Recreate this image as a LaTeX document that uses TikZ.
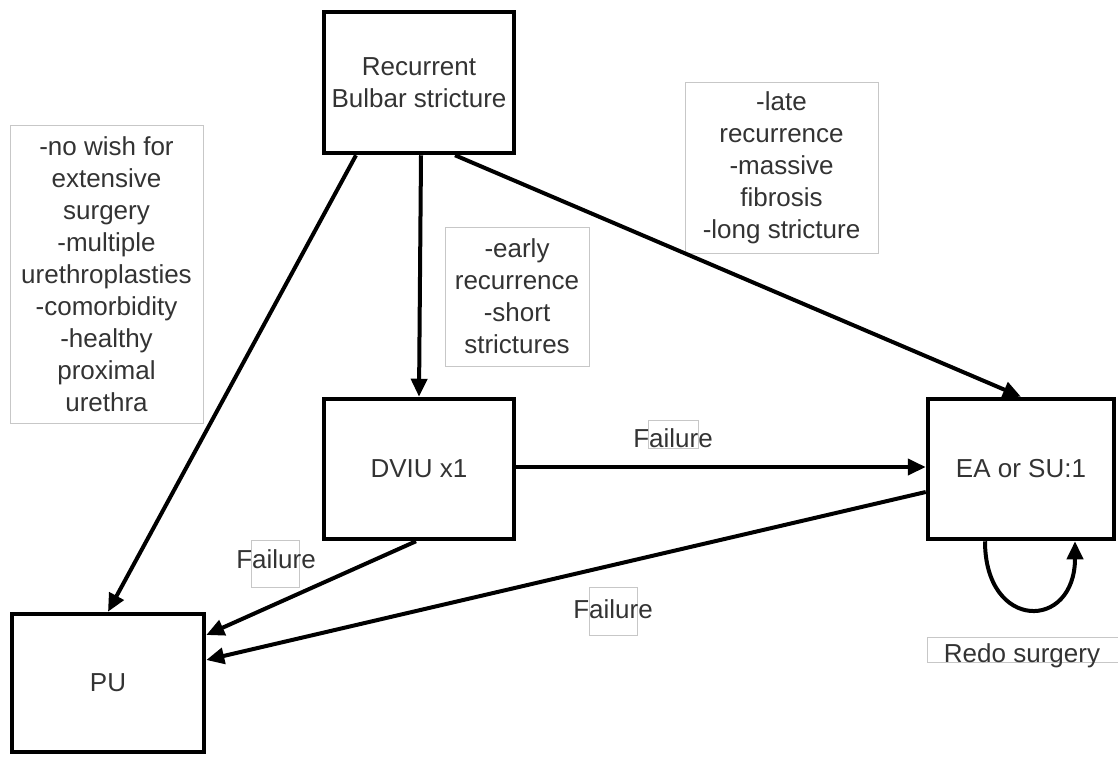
\documentclass[tikz,border=0pt]{standalone}
\usepackage{fontspec}
\setmainfont{Liberation Sans}
\usetikzlibrary{arrows.meta}
\begin{document}
\begin{tikzpicture}[x=1pt,y=-1pt,
  mainbox/.style={draw=black, line width=4.5pt, inner sep=0pt, align=center,
    font=\fontsize{26}{32}\selectfont, text=black!80},
  notebox/.style={draw=black!22, line width=0.8pt, inner sep=0pt, align=center,
    font=\fontsize{26}{32}\selectfont, text=black!80},
  tagbox/.style={draw=black!22, line width=0.8pt, inner sep=0pt},
  tagtext/.style={inner sep=0pt, anchor=base, font=\fontsize{26}{32}\selectfont, text=black!80},
  conn/.style={line width=4pt, -{Triangle[length=18pt,width=16pt]}}
]
\useasboundingbox (0,0) rectangle (1118,756);

% note boxes
\node[notebox, minimum width=193pt, minimum height=298pt] (nleft) at (106.5,274)
  {-no wish for\\extensive\\surgery\\-multiple\\urethroplasties\\-comorbidity\\-healthy\\proximal\\urethra};
\node[notebox, minimum width=144pt, minimum height=139pt] (nearly) at (517,296.5)
  {-early\\recurrence\\-short\\strictures};
\node[notebox, minimum width=193pt, minimum height=171pt] (nlate) at (781.5,167.5)
  {-late\\recurrence\\-massive\\fibrosis\\-long stricture};

% main boxes
\node[mainbox, minimum width=190pt, minimum height=141pt] (rec) at (419,82.5) {Recurrent\\Bulbar stricture};
\node[mainbox, minimum width=190pt, minimum height=140pt] (dviu) at (419,469) {DVIU x1};
\node[mainbox, minimum width=186pt, minimum height=140pt] (ea) at (1021,469) {EA or SU:1};
\node[mainbox, minimum width=192pt, minimum height=138pt] (pu) at (108,683) {PU};

% failure tags
\node[tagbox, minimum width=50pt, minimum height=28pt] (f1b) at (673.5,434) {};
\node[tagtext] (f1) at (673,447) {Failure};
\node[tagbox, minimum width=48pt, minimum height=47pt] (f2b) at (275.5,563.5) {};
\node[tagtext] (f2) at (276,568) {Failure};
\node[tagbox, minimum width=48pt, minimum height=48pt] (f3b) at (613,611) {};
\node[tagtext] (f3) at (613,618) {Failure};
\node[tagbox, minimum width=192pt, minimum height=25pt] (rb) at (1023,649.5) {};
\node[tagtext] (redo) at (1022,662) {Redo surgery};

% connectors
\draw[conn] ([xshift=-63pt]rec.south) -- (pu.north);
\draw[conn] ([xshift=2pt]rec.south) -- (dviu.north);
\draw[conn] ([xshift=36pt]rec.south) -- (ea.north);
\draw[conn] ([yshift=2pt]dviu.east) -- ([yshift=2pt]ea.west);
\draw[conn] ([xshift=-3pt]dviu.south) -- ([yshift=48pt]pu.east);
\draw[conn] ([yshift=-23pt]ea.west) -- ([yshift=23pt]pu.east);
\draw[conn] ([xshift=-36pt]ea.south) .. controls ([xshift=-36pt,yshift=-90pt]ea.south) and ([xshift=54pt,yshift=-90pt]ea.south) .. ([xshift=54pt]ea.south);
\end{tikzpicture}
\end{document}
